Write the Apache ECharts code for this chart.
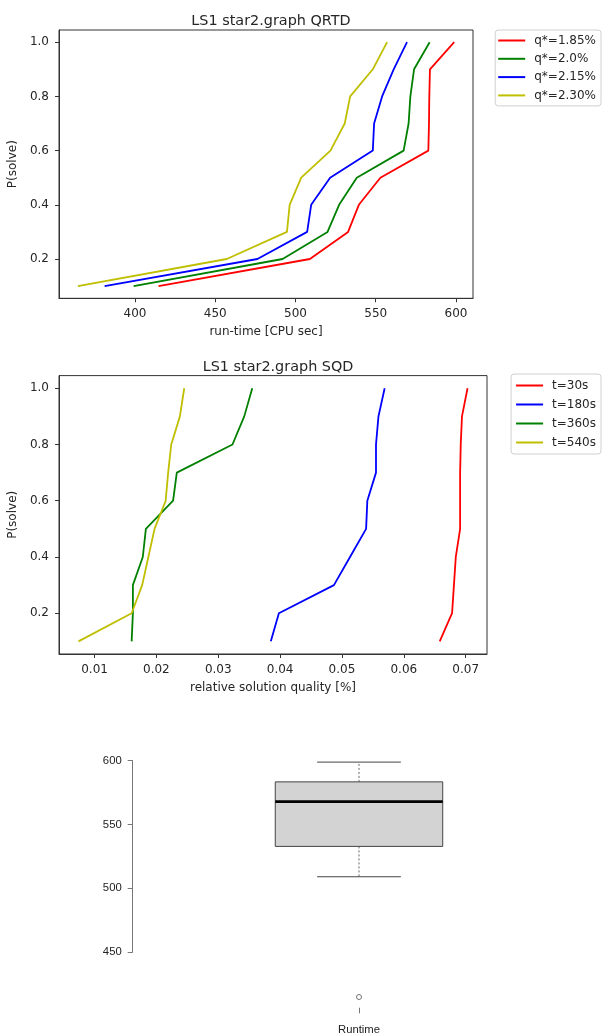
<!DOCTYPE html>
<html>
<head>
<meta charset="utf-8">
<script src="https://cdn.jsdelivr.net/npm/echarts@6/dist/echarts.min.js"></script>
<style>
html,body{margin:0;padding:0;background:#fff;}
#chart{width:606px;height:1036px;}
</style>
</head>
<body>
<div id="chart"></div>
<script>
// ---------- data ----------
const pLevels = [0.1, 0.2, 0.3, 0.4, 0.5, 0.6, 0.7, 0.8, 0.9, 1.0];

const qrtdTitle = 'LS1 star2.graph QRTD';
const qrtdNames = ['q*=1.85%', 'q*=2.0%', 'q*=2.15%', 'q*=2.30%'];
const rtQ185 = [414.7, 509.0, 532.8, 539.5, 552.9, 582.8, 583.2, 583.4, 583.8, 598.9];
const rtQ200 = [399.2, 492.0, 520.0, 527.2, 538.2, 567.4, 570.5, 571.6, 573.9, 583.6];
const rtQ215 = [381.1, 476.3, 507.3, 509.8, 521.6, 548.2, 549.0, 554.0, 561.2, 569.5];
const rtQ230 = [364.4, 457.2, 494.7, 496.4, 503.6, 521.8, 530.7, 534.1, 548.2, 557.1];

const sqdTitle = 'LS1 star2.graph SQD';
const sqdNames = ['t=30s', 't=180s', 't=360s', 't=540s'];
const sqT30  = [0.0658, 0.0678, 0.0681, 0.0684, 0.0691, 0.0691, 0.0691, 0.0692, 0.0694, 0.0703];
const sqT180 = [0.0385, 0.0398, 0.0487, 0.0513, 0.0539, 0.0541, 0.0555, 0.0555, 0.0559, 0.0569];
const sqT360 = [0.0160, 0.0162, 0.0162, 0.0178, 0.0183, 0.0227, 0.0233, 0.0323, 0.0342, 0.0355];
const sqT540 = [0.0074, 0.0160, 0.0177, 0.0187, 0.0197, 0.0215, 0.0219, 0.0224, 0.0238, 0.0245];

const boxCategories = ['Runtime'];
// [lower whisker, lower hinge, median, upper hinge, upper whisker]
const boxStats = [509.0, 532.8, 567.9, 583.4, 598.9];
const boxOutliers = [414.7];

// ---------- helpers ----------
const MPL_FONT = 'DejaVu Sans';
const R_FONT = 'Liberation Sans';
function pairs(xs) { return pLevels.map((p, i) => [xs[i], p]); }
function padRange(arrs, frac) {
  const all = [].concat(...arrs);
  const mn = Math.min(...all), mx = Math.max(...all);
  const d = (mx - mn) * frac;
  return [mn - d, mx + d];
}
const yRange = padRange([pLevels], 0.05);
const qrtdX = padRange([rtQ185, rtQ200, rtQ215, rtQ230], 0.05);
const sqdX = padRange([sqT30, sqT180, sqT360, sqT540], 0.05);

const frame = '#333';
const txt = '#262626';

function mplX(idx, range, interval, fmt, name) {
  return {
    type: 'value', gridIndex: idx, min: range[0], max: range[1],
    minInterval: interval, maxInterval: interval,
    splitLine: { show: false },
    axisLine: { show: true, lineStyle: { color: frame, width: 1 } },
    axisTick: { show: true, length: 4, lineStyle: { color: frame } },
    axisLabel: { show: true, margin: 10, color: txt, fontFamily: MPL_FONT, fontSize: 12,
                 showMinLabel: false, showMaxLabel: false, formatter: fmt },
    name: name, nameLocation: 'middle', nameGap: 28,
    nameTextStyle: { color: txt, fontFamily: MPL_FONT, fontSize: 12 }
  };
}
function mplY(idx) {
  return {
    type: 'value', gridIndex: idx, min: yRange[0], max: yRange[1],
    minInterval: 0.2, maxInterval: 0.2,
    splitLine: { show: false },
    axisLine: { show: true, lineStyle: { color: frame, width: 1 } },
    axisTick: { show: true, length: 4, lineStyle: { color: frame } },
    axisLabel: { show: true, margin: 10, color: txt, fontFamily: MPL_FONT, fontSize: 12,
                 showMinLabel: false, showMaxLabel: false,
                 formatter: v => v.toFixed(1) },
    name: 'P(solve)', nameLocation: 'middle', nameGap: 34,
    nameTextStyle: { color: txt, fontFamily: MPL_FONT, fontSize: 12 }
  };
}
function lineSeries(name, xs, color, idx) {
  return {
    type: 'line', name: name, xAxisIndex: idx, yAxisIndex: idx,
    data: pairs(xs), symbol: 'none', showSymbol: false, smooth: false,
    lineStyle: { color: color, width: 1.8 }, itemStyle: { color: color },
    emphasis: { disabled: true }, animation: false, z: 3
  };
}
function legendFor(names, top, pad, gap) {
  return {
    data: names, orient: 'vertical', right: 5, top: top,
    padding: pad, itemGap: gap, itemWidth: 27, itemHeight: 2, icon: 'rect',
    backgroundColor: '#fff', borderColor: '#d0d0d0', borderWidth: 1, borderRadius: 3,
    textStyle: { color: txt, fontFamily: MPL_FONT, fontSize: 12, lineHeight: 15, padding: [0, 0, 0, 4] },
    selectedMode: false
  };
}

const colors = ['#ff0000', '#008000', '#0000ff', '#bfbf00'];
const sqdColors = ['#ff0000', '#0000ff', '#008000', '#bfbf00'];

const chart = echarts.init(document.getElementById('chart'), null, { renderer: 'canvas' });
const option = {
  animation: false,
  backgroundColor: '#fff',
  title: [
    { text: qrtdTitle, left: 266, top: 9, textAlign: 'center',
      textStyle: { fontFamily: MPL_FONT, fontSize: 14.4, fontWeight: 'normal', color: txt } },
    { text: sqdTitle, left: 273, top: 355, textAlign: 'center',
      textStyle: { fontFamily: MPL_FONT, fontSize: 14.4, fontWeight: 'normal', color: txt } }
  ],
  legend: [
    legendFor(qrtdNames, 30, [3, 5, 3, 3], 3.3),
    legendFor(sqdNames, 374, [4, 5, 4, 5], 4)
  ],
  grid: [
    { left: 59, top: 30, width: 414, height: 268.3, show: true, borderColor: frame, borderWidth: 1,
      outerBoundsMode: 'none', containLabel: false },
    { left: 59, top: 375.6, width: 428, height: 278.4, show: true, borderColor: frame, borderWidth: 1,
      outerBoundsMode: 'none', containLabel: false },
    { left: 132.7, top: 760.7, width: 452.6, height: 191.3, show: false,
      outerBoundsMode: 'none', containLabel: false }
  ],
  xAxis: [
    mplX(0, qrtdX, 50, v => String(Math.round(v)), 'run-time [CPU sec]'),
    mplX(1, sqdX, 0.01, v => v.toFixed(2), 'relative solution quality [%]'),
    {
      type: 'category', gridIndex: 2, data: boxCategories, offset: 55.7,
      axisLine: { show: false },
      axisTick: { show: true, alignWithLabel: true, length: 5.6, lineStyle: { color: '#777' } },
      axisLabel: { margin: 17, color: '#222', fontFamily: R_FONT, fontSize: 11.3 },
      splitLine: { show: false }
    }
  ],
  yAxis: [
    mplY(0),
    mplY(1),
    {
      type: 'value', gridIndex: 2, min: 450, max: 600, interval: 50,
      splitLine: { show: false },
      axisLine: { show: true, lineStyle: { color: '#777', width: 1 } },
      axisTick: { show: true, length: 5, lineStyle: { color: '#777' } },
      axisLabel: { margin: 11, color: '#222', fontFamily: R_FONT, fontSize: 11.3 }
    }
  ],
  series: [
    lineSeries(qrtdNames[0], rtQ185, colors[0], 0),
    lineSeries(qrtdNames[1], rtQ200, colors[1], 0),
    lineSeries(qrtdNames[2], rtQ215, colors[2], 0),
    lineSeries(qrtdNames[3], rtQ230, colors[3], 0),
    lineSeries(sqdNames[0], sqT30, sqdColors[0], 1),
    lineSeries(sqdNames[1], sqT180, sqdColors[1], 1),
    lineSeries(sqdNames[2], sqT360, sqdColors[2], 1),
    lineSeries(sqdNames[3], sqT540, sqdColors[3], 1),
    {
      type: 'custom', xAxisIndex: 2, yAxisIndex: 2, clip: false,
      data: [[0].concat(boxStats)],
      encode: { x: 0, y: [1, 2, 3, 4, 5] },
      renderItem: function (params, api) {
        const xi = api.value(0);
        const lo = api.coord([xi, api.value(1)]);
        const q1 = api.coord([xi, api.value(2)]);
        const md = api.coord([xi, api.value(3)]);
        const q3 = api.coord([xi, api.value(4)]);
        const hi = api.coord([xi, api.value(5)]);
        const band = api.size([1, 0])[0];
        const cx = md[0];
        const hw = band * 0.185;
        const cw = band * 0.0925;
        const dash = { stroke: '#666', lineWidth: 1, lineDash: [2, 2] };
        const solid = { stroke: '#444', lineWidth: 1 };
        return {
          type: 'group',
          children: [
            { type: 'line', shape: { x1: cx, y1: q3[1], x2: cx, y2: hi[1] }, style: dash },
            { type: 'line', shape: { x1: cx, y1: q1[1], x2: cx, y2: lo[1] }, style: dash },
            { type: 'line', shape: { x1: cx - cw, y1: hi[1], x2: cx + cw, y2: hi[1] }, style: solid },
            { type: 'line', shape: { x1: cx - cw, y1: lo[1], x2: cx + cw, y2: lo[1] }, style: solid },
            { type: 'rect', shape: { x: cx - hw, y: q3[1], width: 2 * hw, height: q1[1] - q3[1] },
              style: { fill: '#d3d3d3', stroke: '#444', lineWidth: 1 } },
            { type: 'line', shape: { x1: cx - hw, y1: md[1], x2: cx + hw, y2: md[1] },
              style: { stroke: '#000', lineWidth: 2.6 } }
          ]
        };
      },
      animation: false, silent: true
    },
    {
      type: 'scatter', xAxisIndex: 2, yAxisIndex: 2, clip: false,
      data: boxOutliers.map(v => [0, v]),
      symbol: 'circle', symbolSize: 5,
      itemStyle: { color: '#fff', borderColor: '#555', borderWidth: 1 },
      emphasis: { disabled: true }, silent: true, animation: false
    }
  ]
};
chart.setOption(option);
</script>
</body>
</html>
